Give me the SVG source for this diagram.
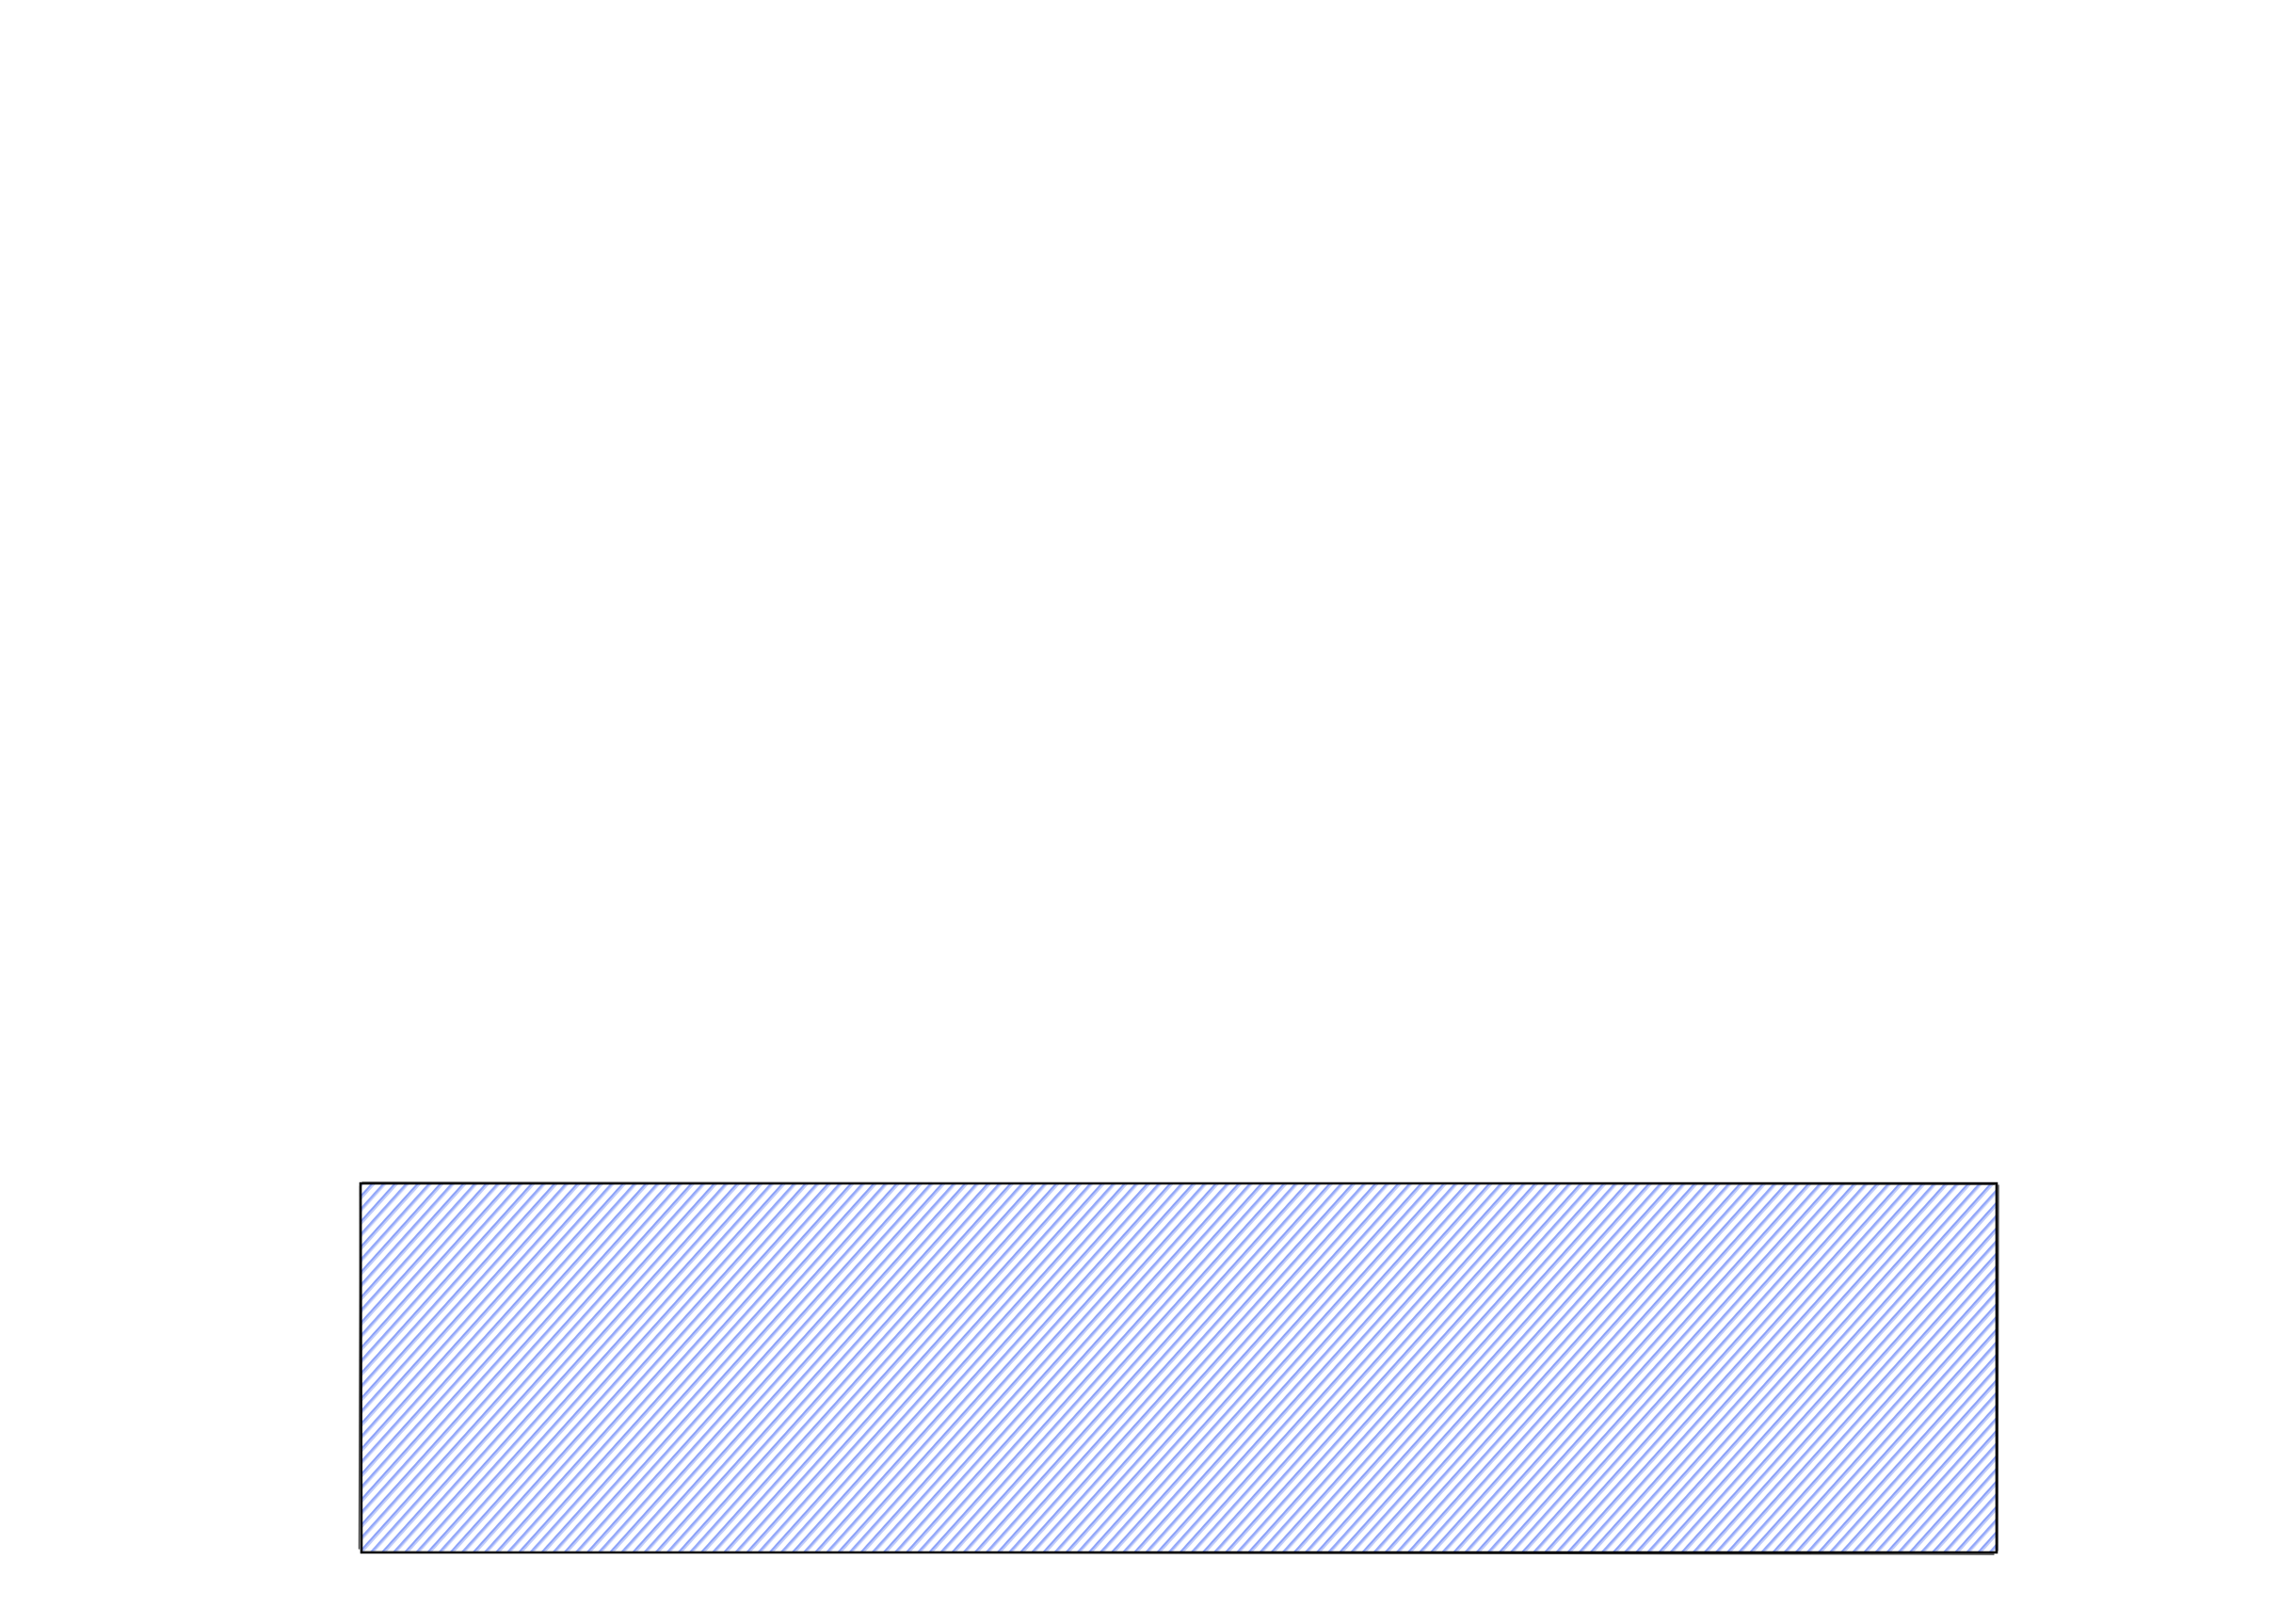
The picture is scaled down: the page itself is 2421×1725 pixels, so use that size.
<svg xmlns="http://www.w3.org/2000/svg" width="2421" height="1725" viewBox="0 0 2421 1725">
  <style>
    .frame { fill: none; stroke: #000000; stroke-width: 2.6; stroke-linecap: round; }
    .frame2 { fill: none; stroke: #1e1e1e; stroke-width: 1.4; stroke-linecap: round; opacity: 0.85; }
    .hatch { stroke: #4c6ef5; stroke-width: 1.3; }
  </style>
  <defs>
    <pattern id="hachure" patternUnits="userSpaceOnUse" width="18" height="18" patternTransform="rotate(42)">
      <line class="hatch" x1="1" y1="0" x2="1" y2="18" opacity="1"/>
      <line class="hatch" x1="3" y1="0" x2="3" y2="18" opacity="0.55"/>
      <line class="hatch" x1="10" y1="0" x2="10" y2="18" opacity="0.95"/>
      <line class="hatch" x1="11.8" y1="0" x2="11.8" y2="18" opacity="0.5"/>
    </pattern>
  </defs>
  <rect width="2421" height="1725" fill="#ffffff"/>
  <g id="node-block">
    <rect x="384" y="1258" width="1736" height="390" fill="url(#hachure)"/>
    <path class="frame" d="M383 1257 L2121 1257 L2121 1649 L384 1649 Z"/>
    <path class="frame2" d="M385 1256 L2119 1258 M2123 1259 L2122 1647 M2118 1651 L386 1648.5 M381.5 1645 L382.5 1260"/>
  </g>
  <g id="connectors"></g>
</svg>
